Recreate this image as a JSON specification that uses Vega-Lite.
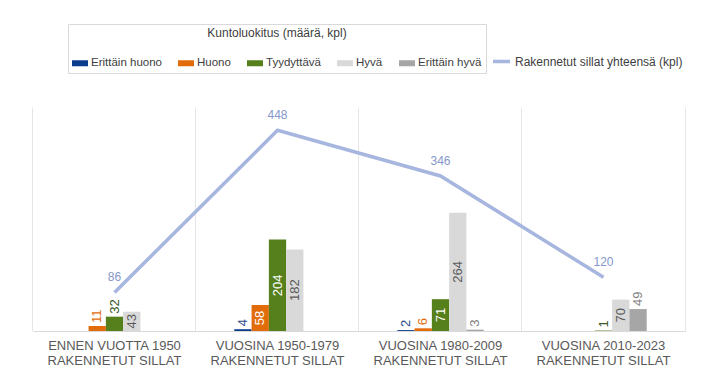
{
  "$schema": "https://vega.github.io/schema/vega-lite/v6.json",
  "autosize": "none",
  "width": 652,
  "height": 224,
  "padding": {"left": 33, "top": 107, "right": 35, "bottom": 47},
  "config": {
    "font": "Liberation Sans",
    "view": {"stroke": null},
    "legend": {"titleFontWeight": "normal"}
  },
  "data": {
    "values": [
      {"kausi": "ENNEN VUOTTA 1950 RAKENNETUT SILLAT", "luokka": "Huono", "maara": 11},
      {"kausi": "ENNEN VUOTTA 1950 RAKENNETUT SILLAT", "luokka": "Tyydyttävä", "maara": 32},
      {"kausi": "ENNEN VUOTTA 1950 RAKENNETUT SILLAT", "luokka": "Hyvä", "maara": 43},
      {"kausi": "VUOSINA 1950-1979 RAKENNETUT SILLAT", "luokka": "Erittäin huono", "maara": 4},
      {"kausi": "VUOSINA 1950-1979 RAKENNETUT SILLAT", "luokka": "Huono", "maara": 58},
      {"kausi": "VUOSINA 1950-1979 RAKENNETUT SILLAT", "luokka": "Tyydyttävä", "maara": 204},
      {"kausi": "VUOSINA 1950-1979 RAKENNETUT SILLAT", "luokka": "Hyvä", "maara": 182},
      {"kausi": "VUOSINA 1980-2009 RAKENNETUT SILLAT", "luokka": "Erittäin huono", "maara": 2},
      {"kausi": "VUOSINA 1980-2009 RAKENNETUT SILLAT", "luokka": "Huono", "maara": 6},
      {"kausi": "VUOSINA 1980-2009 RAKENNETUT SILLAT", "luokka": "Tyydyttävä", "maara": 71},
      {"kausi": "VUOSINA 1980-2009 RAKENNETUT SILLAT", "luokka": "Hyvä", "maara": 264},
      {"kausi": "VUOSINA 1980-2009 RAKENNETUT SILLAT", "luokka": "Erittäin hyvä", "maara": 3},
      {"kausi": "VUOSINA 2010-2023 RAKENNETUT SILLAT", "luokka": "Tyydyttävä", "maara": 1},
      {"kausi": "VUOSINA 2010-2023 RAKENNETUT SILLAT", "luokka": "Hyvä", "maara": 70},
      {"kausi": "VUOSINA 2010-2023 RAKENNETUT SILLAT", "luokka": "Erittäin hyvä", "maara": 49}
    ]
  },
  "layer": [
    {
      "encoding": {
        "x": {
          "field": "kausi",
          "type": "nominal",
          "sort": null,
          "scale": {"paddingInner": 0.2577, "paddingOuter": 0.12885},
          "axis": {
            "title": null,
            "labelAngle": 0,
            "labelExpr": "[replace(datum.label, ' RAKENNETUT SILLAT', ''), 'RAKENNETUT SILLAT']",
            "labelFontSize": 13,
            "labelColor": "#595959",
            "labelLineHeight": 15,
            "labelPadding": 8,
            "ticks": false,
            "domainColor": "#d9d9d9",
            "grid": false
          }
        }
      },
      "layer": [
        {
          "mark": {"type": "bar"},
          "encoding": {
            "xOffset": {
              "field": "luokka",
              "type": "nominal",
              "scale": {"domain": ["Erittäin huono", "Huono", "Tyydyttävä", "Hyvä", "Erittäin hyvä"], "paddingInner": 0, "paddingOuter": 1}
            },
            "y": {"field": "maara", "type": "quantitative", "scale": {"domain": [0, 500]}, "axis": null},
            "color": {
              "field": "luokka",
              "type": "nominal",
              "scale": {
                "domain": ["Erittäin huono", "Huono", "Tyydyttävä", "Hyvä", "Erittäin hyvä"],
                "range": ["#0b3c8c", "#e26b0a", "#56801c", "#d9d9d9", "#a6a6a6"]
              },
              "legend": {
                "orient": "none",
                "legendX": 35,
                "legendY": -83,
                "direction": "horizontal",
                "title": "Kuntoluokitus (määrä, kpl)",
                "titleAnchor": "middle",
                "titleFontSize": 12,
                "titleColor": "#404040",
                "titlePadding": 15,
                "labelFontSize": 11.5,
                "labelColor": "#404040",
                "labelOffset": 3,
                "columnPadding": 16,
                "symbolType": "M-1,-0.375H1V0.375H-1Z",
                "symbolSize": 256,
                "symbolStrokeWidth": 0,
                "symbolOpacity": 1,
                "strokeColor": "#d9d9d9",
                "padding": 4
              }
            }
          }
        },
        {
          "mark": {"type": "line", "strokeWidth": 3.5},
          "encoding": {
            "y": {"aggregate": "sum", "field": "maara", "type": "quantitative", "scale": {"domain": [0, 500]}, "axis": null},
            "stroke": {
              "datum": "Rakennetut sillat yhteensä (kpl)",
              "type": "nominal",
              "scale": {"range": ["#a7b6df"]},
              "legend": {
                "orient": "none",
                "legendX": 458,
                "legendY": -56,
                "title": null,
                "symbolType": "stroke",
                "symbolSize": 289,
                "symbolStrokeWidth": 3.5,
                "labelFontSize": 12,
                "labelColor": "#404040",
                "labelOffset": 3,
                "labelLimit": 300,
                "padding": 0
              }
            }
          }
        },
        {
          "mark": {"type": "text", "fontSize": 12, "dy": -15, "baseline": "middle", "color": "#8597cc"},
          "encoding": {
            "y": {"aggregate": "sum", "field": "maara", "type": "quantitative", "scale": {"domain": [0, 500]}, "axis": null},
            "text": {"aggregate": "sum", "field": "maara", "type": "quantitative"}
          }
        },
        {
          "transform": [{"filter": "datum.luokka == 'Erittäin hyvä' || datum.maara < 40"}],
          "mark": {"type": "text", "fontSize": 13, "angle": 270, "align": "left", "baseline": "middle", "dx": 3},
          "encoding": {
            "xOffset": {"field": "luokka", "type": "nominal"},
            "y": {"field": "maara", "type": "quantitative", "scale": {"domain": [0, 500]}, "axis": null},
            "text": {"field": "maara", "type": "quantitative"},
            "color": {
              "condition": [
                {"test": "datum.luokka == 'Erittäin huono'", "value": "#2a4a8a"},
                {"test": "datum.luokka == 'Huono'", "value": "#e26b0a"},
                {"test": "datum.luokka == 'Tyydyttävä'", "value": "#385723"},
                {"test": "datum.luokka == 'Hyvä'", "value": "#595959"}
              ],
              "value": "#7f7f7f"
            }
          }
        }
      ]
    },
    {
      "transform": [{"filter": "datum.luokka != 'Erittäin hyvä' && datum.maara >= 40"}],
      "mark": {"type": "text", "fontSize": 13, "angle": 270, "align": "center", "baseline": "middle"},
      "encoding": {
        "x": {
          "field": "kausi",
          "type": "nominal",
          "sort": null,
          "axis": {
            "orient": "top",
            "title": null,
            "labels": false,
            "ticks": false,
            "domain": false,
            "grid": true,
            "gridColor": "#e6e6e6",
            "bandPosition": -0.1736
          }
        },
        "xOffset": {"field": "luokka", "type": "nominal"},
        "y": {
          "field": "maara",
          "type": "quantitative",
          "scale": {"domain": [0, 1000]},
          "axis": {"orient": "right", "title": null, "labels": false, "ticks": false, "grid": false, "domain": true, "domainColor": "#e6e6e6"}
        },
        "text": {"field": "maara", "type": "quantitative"},
        "color": {
          "condition": [{"test": "datum.luokka == 'Hyvä'", "value": "#595959"}],
          "value": "#ffffff"
        }
      }
    }
  ],
  "resolve": {"scale": {"y": "independent"}, "axis": {"x": "independent"}}
}
